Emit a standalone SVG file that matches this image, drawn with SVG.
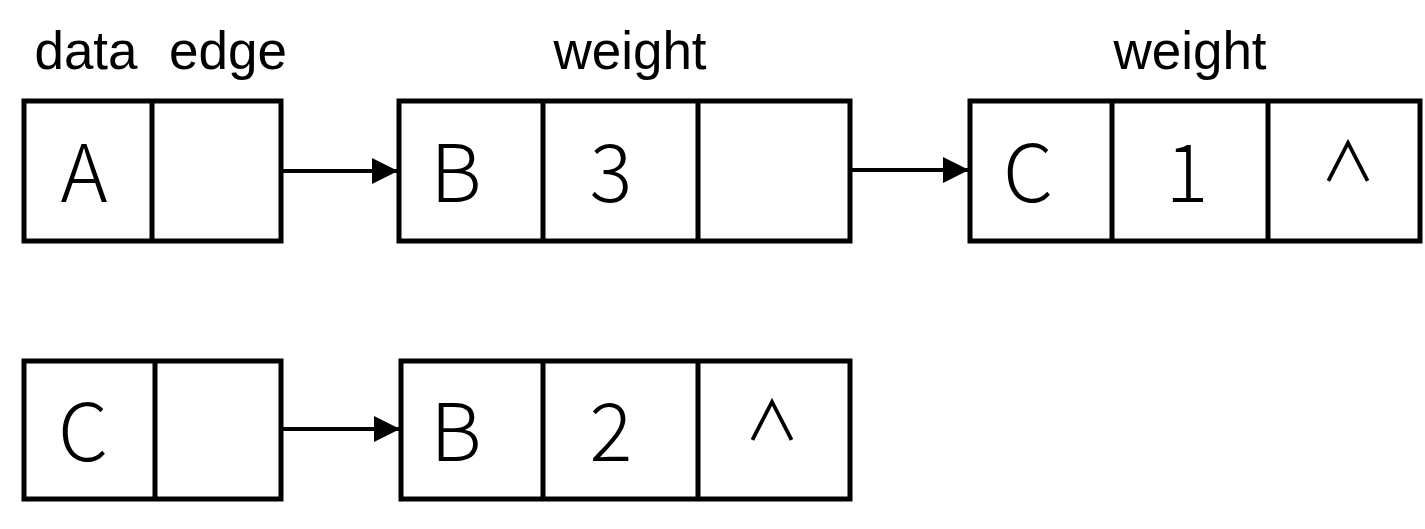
<svg xmlns="http://www.w3.org/2000/svg" width="1425" height="529" viewBox="0 0 1425 529">
<style>
.box{fill:#fff;stroke:#000;stroke-width:5}
.div{stroke:#000;stroke-width:5}
.lbl{font-family:"Liberation Sans",Arial,sans-serif;font-size:53px;fill:#000;text-anchor:middle}
.cell{font-family:"Noto Sans CJK SC","Noto Sans",sans-serif;font-weight:300;font-size:80px;fill:#000;text-anchor:middle}
.caret{font-family:"Noto Sans CJK SC","Noto Sans",sans-serif;font-weight:400;font-size:55px;fill:#000;text-anchor:middle}
.conn{stroke:#000;stroke-width:4;fill:none;marker-end:url(#ah)}
</style>
<defs>
<marker id="ah" markerUnits="userSpaceOnUse" markerWidth="27" markerHeight="26" refX="26" refY="13" orient="auto">
<path d="M0,0 L26,13 L0,26 Z" fill="#000"/>
</marker>
</defs>
<rect width="1425" height="529" fill="#fff"/>
<g id="labels">
<text class="lbl" x="86" y="69">data</text>
<text class="lbl" x="228" y="69">edge</text>
<text class="lbl" x="630" y="69">weight</text>
<text class="lbl" x="1190" y="69">weight</text>
</g>
<g id="nodeA">
<rect class="box" x="24" y="101" width="257" height="140"/>
<line class="div" x1="152" y1="101" x2="152" y2="241"/>
<text class="cell" x="84" y="202">A</text>
</g>
<g id="nodeB1">
<rect class="box" x="399" y="101" width="451" height="140"/>
<line class="div" x1="543" y1="101" x2="543" y2="241"/>
<line class="div" x1="698" y1="101" x2="698" y2="241"/>
<text class="cell" x="456" y="202">B</text>
<text class="cell" x="611" y="202">3</text>
</g>
<g id="nodeC1">
<rect class="box" x="970" y="101" width="450" height="140"/>
<line class="div" x1="1112" y1="101" x2="1112" y2="241"/>
<line class="div" x1="1268" y1="101" x2="1268" y2="241"/>
<text class="cell" x="1028" y="202">C</text>
<text class="cell" x="1187" y="202">1</text>
<text class="caret" x="1348" y="181">∧</text>
</g>
<g id="nodeC">
<rect class="box" x="24" y="361" width="257" height="138"/>
<line class="div" x1="155" y1="361" x2="155" y2="499"/>
<text class="cell" x="83" y="461">C</text>
</g>
<g id="nodeB2">
<rect class="box" x="401" y="361" width="449" height="138"/>
<line class="div" x1="543" y1="361" x2="543" y2="499"/>
<line class="div" x1="698" y1="361" x2="698" y2="499"/>
<text class="cell" x="456" y="461">B</text>
<text class="cell" x="611" y="461">2</text>
<text class="caret" x="772" y="440">∧</text>
</g>
<g id="connectors">
<line class="conn" x1="283" y1="171" x2="398" y2="171"/>
<line class="conn" x1="852" y1="170" x2="969" y2="170"/>
<line class="conn" x1="283" y1="429" x2="400" y2="429"/>
</g>
</svg>
